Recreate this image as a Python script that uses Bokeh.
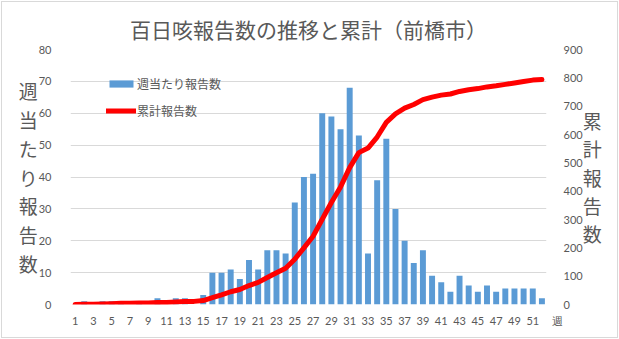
from bokeh.plotting import figure
from bokeh.models import (Range1d, LinearAxis, FixedTicker, Legend, LegendItem,
                          ColumnDataSource)
from bokeh.embed import file_html
from bokeh.resources import INLINE

# ---- data ----
weeks = [1, 2, 3, 4, 5, 6, 7, 8, 9, 10, 11, 12, 13, 14, 15, 16, 17, 18, 19, 20,
         21, 22, 23, 24, 25, 26, 27, 28, 29, 30, 31, 32, 33, 34, 35, 36, 37, 38,
         39, 40, 41, 42, 43, 44, 45, 46, 47, 48, 49, 50, 51, 52]
weekly_reports = [0, 1, 0, 1, 1, 1, 0, 1, 0, 2,
                  0, 2, 2, 0, 3, 10, 10, 11, 8, 14,
                  11, 17, 17, 16, 32, 40, 41, 60, 59, 55,
                  68, 53, 16, 39, 52, 30, 20, 13, 17, 9,
                  7, 4, 9, 6, 4, 6, 4, 5, 5, 5,
                  5, 2]
cumulative_reports = [0, 1, 1, 2, 3, 4, 4, 5, 5, 7,
                      7, 9, 11, 11, 14, 24, 34, 45, 53, 67,
                      78, 95, 112, 128, 160, 200, 241, 301, 360, 415,
                      483, 536, 552, 591, 643, 673, 693, 706, 723, 732,
                      739, 743, 752, 758, 762, 768, 772, 777, 782, 787,
                      792, 794]
x_tick_labels = [1, 3, 5, 7, 9, 11, 13, 15, 17, 19, 21, 23, 25, 27, 29, 31, 33,
                 35, 37, 39, 41, 43, 45, 47, 49, 51]
left_ticks = [0, 10, 20, 30, 40, 50, 60, 70, 80]
right_ticks = [0, 100, 200, 300, 400, 500, 600, 700, 800, 900]

title_text = "百日咳報告数の推移と累計（前橋市）"
left_label = "週当たり報告数"
right_label = "累計報告数"
bar_name = "週当たり報告数"
line_name = "累計報告数"
x_unit = "週"

GREY = "#595959"
GRID = "#d9d9d9"
CJK = "Noto Sans CJK JP"
NUM = "Lato"

src = ColumnDataSource(dict(week=weeks, weekly=weekly_reports, cum=cumulative_reports))

X_START, X_END = 0.5, 52.5

p = figure(width=619, height=339, output_backend="svg", toolbar_location=None,
           x_range=Range1d(X_START, X_END), y_range=Range1d(0, 80),
           min_border_left=70, min_border_right=73, min_border_top=49,
           min_border_bottom=35, background_fill_color="white",
           border_fill_color=None, outline_line_color=None)
p.extra_y_ranges = {"cum": Range1d(0, 900)}
p.styles = {"outline": "1px solid #d9d9d9", "outline-offset": "-2px",
            "background-color": "white"}

bars = p.vbar(x="week", top="weekly", width=0.65, source=src,
              fill_color="#5b9bd5", line_color=None)
line = p.line(x="week", y="cum", source=src, y_range_name="cum",
              line_color="#ff0000", line_width=5, line_join="round",
              line_cap="round")

# title
p.title.text = title_text
p.title.align = "center"
p.title.offset = -5
p.title.text_font = CJK
p.title.text_font_size = "21px"
p.title.text_font_style = "normal"
p.title.text_color = GREY
p.title.standoff = 11

# bottom axis (the unit "週" sits just past the last category)
xa = p.xaxis[0]
xa.ticker = FixedTicker(ticks=x_tick_labels + [X_END])
xa.major_label_overrides = {X_END: "\u3000\u3000" + x_unit}
xa.axis_line_color = None
xa.major_tick_line_color = None
xa.minor_tick_line_color = None
xa.major_label_text_color = GREY
xa.major_label_text_font = NUM
xa.major_label_text_font_size = "11px"
xa.major_label_standoff = 3

ya = p.yaxis[0]
ya.ticker = FixedTicker(ticks=left_ticks)
ya.axis_line_color = None
ya.major_tick_line_color = None
ya.minor_tick_line_color = None
ya.major_label_text_color = GREY
ya.major_label_text_font = NUM
ya.major_label_text_font_size = "11px"
ya.major_label_standoff = 13
ya.axis_label = "\n".join(left_label)
ya.axis_label_orientation = "horizontal"
ya.axis_label_text_font = CJK
ya.axis_label_text_font_size = "19px"
ya.axis_label_text_font_style = "normal"
ya.axis_label_text_color = GREY
ya.axis_label_text_line_height = 1.07
ya.axis_label_standoff = -2

ra = LinearAxis(y_range_name="cum", ticker=FixedTicker(ticks=right_ticks))
ra.axis_line_color = None
ra.major_tick_line_color = None
ra.minor_tick_line_color = None
ra.major_label_text_color = GREY
ra.major_label_text_font = NUM
ra.major_label_text_font_size = "11px"
ra.major_label_standoff = 11
ra.axis_label = "\n".join(right_label)
ra.axis_label_orientation = "horizontal"
ra.axis_label_text_font = CJK
ra.axis_label_text_font_size = "19px"
ra.axis_label_text_font_style = "normal"
ra.axis_label_text_color = GREY
ra.axis_label_text_line_height = 1.04
ra.axis_label_standoff = -3
p.add_layout(ra, "right")

p.xgrid.visible = False
p.ygrid.ticker = FixedTicker(ticks=left_ticks)
p.ygrid.grid_line_color = GRID

# legend
legend = Legend(items=[LegendItem(label=bar_name, renderers=[bars]),
                       LegendItem(label=line_name, renderers=[line])],
                location=(36, 185), padding=0, spacing=10, glyph_width=30,
                glyph_height=9, label_height=9, label_standoff=1,
                label_text_font=CJK, label_text_font_size="12px",
                label_text_color=GREY, background_fill_alpha=0,
                border_line_alpha=0)
p.add_layout(legend)

open("out.html", "w").write(file_html(p, INLINE))
